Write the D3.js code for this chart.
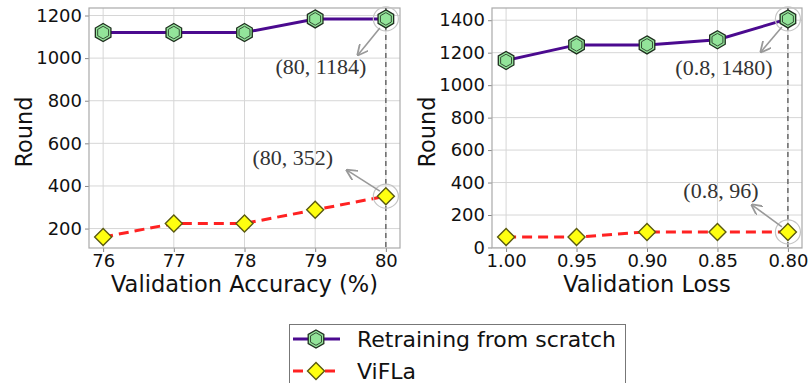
<!DOCTYPE html>
<html>
<head>
<meta charset="utf-8">
<script src="https://cdn.jsdelivr.net/npm/d3@7"></script>
<style>
  body { margin: 0; background: #fff; }
  svg { display: block; }
</style>
</head>
<body>
<div id="chart"></div>
<script>
// accuracy panel
const accTicks = [76, 77, 78, 79, 80];
const accRetrain = [1120, 1120, 1120, 1184, 1184];
const accVifla = [160, 224, 224, 288, 352];
const accYTicks = [200, 400, 600, 800, 1000, 1200];

// loss panel
const lossTicks = [1.00, 0.95, 0.90, 0.85, 0.80];
const lossRetrain = [1152, 1248, 1248, 1280, 1408];
const lossVifla = [64, 64, 96, 96, 96];
const lossYTicks = [0, 200, 400, 600, 800, 1000, 1200, 1400];

const seriesNames = ['Retraining from scratch', 'ViFLa'];

const svg = d3.select('#chart')
  .append('svg')
  .attr('width', 812)
  .attr('height', 383);

// arrowhead
svg.append('defs').append('marker')
  .attr('id', 'arrow')
  .attr('viewBox', '0 0 10 10')
  .attr('refX', 9).attr('refY', 5)
  .attr('markerWidth', 7).attr('markerHeight', 7)
  .attr('orient', 'auto-start-reverse')
  .append('path')
  .attr('d', 'M0,0 L10,5 L0,10')
  .attr('fill', 'none')
  .attr('stroke', '#999')
  .attr('stroke-width', 1.6);

const hexPts = (r) => d3.range(6).map(i => {
  const a = Math.PI / 3 * i - Math.PI / 2;
  return [r * Math.cos(a), r * Math.sin(a)];
});
const hexPath = r => 'M' + hexPts(r).map(p => p.join(',')).join('L') + 'Z';
const diamondPath = r => `M0,${-r}L${r},0L0,${r}L${-r},0Z`;

function drawHex(g, x, y) {
  const m = g.append('g').attr('transform', `translate(${x},${y})`);
  m.append('path').attr('d', hexPath(9)).attr('fill', '#93e49a')
    .attr('stroke', '#1f2f1f').attr('stroke-width', 1.3);
  m.append('path').attr('d', hexPath(6.3)).attr('fill', 'none')
    .attr('stroke', '#2a3d2a').attr('stroke-width', 0.9);
}
function drawDiamond(g, x, y) {
  g.append('path')
    .attr('transform', `translate(${x},${y})`)
    .attr('d', diamondPath(8.5))
    .attr('fill', '#ffff10')
    .attr('stroke', '#5a5a10')
    .attr('stroke-width', 1.4);
}

function panel(cfg) {
  const g = svg.append('g');
  const x = d3.scaleLinear().domain(cfg.xDomain).range([cfg.left, cfg.right]);
  const y = d3.scaleLinear().domain(cfg.yDomain).range([248, 8]);

  // grid
  g.append('g').selectAll('line.gx').data(cfg.xTicks).enter().append('line')
    .attr('x1', d => x(d)).attr('x2', d => x(d))
    .attr('y1', 8).attr('y2', 248)
    .attr('stroke', '#d6d6d6').attr('stroke-width', 1);
  g.append('g').selectAll('line.gy').data(cfg.yTicks).enter().append('line')
    .attr('x1', cfg.left).attr('x2', cfg.right)
    .attr('y1', d => y(d)).attr('y2', d => y(d))
    .attr('stroke', '#d6d6d6').attr('stroke-width', 1);

  // axes
  const xAxis = g.append('g').attr('transform', 'translate(0,248)')
    .call(d3.axisBottom(x).tickValues(cfg.xTicks).tickFormat(cfg.xFormat).tickSizeOuter(0).tickSize(4).tickPadding(2));
  const yAxis = g.append('g').attr('transform', `translate(${cfg.left},0)`)
    .call(d3.axisLeft(y).tickValues(cfg.yTicks).tickFormat(d3.format('d')).tickSizeOuter(0).tickSize(4).tickPadding(3));
  [xAxis, yAxis].forEach(a => {
    a.select('.domain').remove();
    a.selectAll('line').attr('stroke', '#888');
    a.selectAll('text')
      .attr('fill', '#111')
      .style('font-family', 'DejaVu Sans, sans-serif')
      .style('font-size', '18px');
  });

  // frame
  g.append('rect')
    .attr('x', cfg.left).attr('y', 8)
    .attr('width', cfg.right - cfg.left).attr('height', 240)
    .attr('fill', 'none').attr('stroke', '#aaa').attr('stroke-width', 1.2);

  // vertical marker line
  const last = cfg.xTicks[cfg.xTicks.length - 1];
  g.append('line')
    .attr('x1', x(last)).attr('x2', x(last))
    .attr('y1', 8).attr('y2', 248)
    .attr('stroke', '#555').attr('stroke-width', 1.3)
    .attr('stroke-dasharray', '5,4');

  // lines
  const line = (vals) => d3.line().x((d, i) => x(cfg.xTicks[i])).y(d => y(d))(vals);
  g.append('path').attr('d', line(cfg.retrain))
    .attr('fill', 'none').attr('stroke', '#4b0a8f').attr('stroke-width', 3);
  g.append('path').attr('d', line(cfg.vifla))
    .attr('fill', 'none').attr('stroke', '#ff2222').attr('stroke-width', 3)
    .attr('stroke-dasharray', '10,6');

  cfg.retrain.forEach((v, i) => drawHex(g, x(cfg.xTicks[i]), y(v)));
  cfg.vifla.forEach((v, i) => drawDiamond(g, x(cfg.xTicks[i]), y(v)));

  // annotations
  cfg.notes.forEach(n => {
    const px = x(last), py = y(n.value);
    g.append('ellipse').attr('cx', px).attr('cy', py).attr('rx', 12.5).attr('ry', 12)
      .attr('fill', 'none').attr('stroke', '#c4c4c4').attr('stroke-width', 1.2);
    g.append('line')
      .attr('x1', px - 6).attr('y1', py + n.dy0)
      .attr('x2', px + n.ax).attr('y2', py + n.ay)
      .attr('stroke', '#999').attr('stroke-width', 1.6)
      .attr('marker-end', 'url(#arrow)');
    g.append('text')
      .attr('x', px + n.tx).attr('y', py + n.ty)
      .attr('text-anchor', 'middle')
      .attr('fill', '#333')
      .style('font-family', 'Liberation Serif, Times New Roman, serif')
      .style('font-size', '22px')
      .text(n.label);
  });

  // labels
  g.append('text')
    .attr('x', (cfg.left + cfg.right) / 2).attr('y', 292)
    .attr('text-anchor', 'middle').attr('fill', '#111')
    .style('font-family', 'DejaVu Sans, sans-serif').style('font-size', '22.5px')
    .text(cfg.xLabel);
  g.append('text')
    .attr('transform', `translate(${cfg.yLabelX},132) rotate(-90)`)
    .attr('text-anchor', 'middle').attr('fill', '#111')
    .style('font-family', 'DejaVu Sans, sans-serif').style('font-size', '22.5px')
    .text('Round');
}

panel({
  left: 89, right: 400,
  xDomain: [75.8, 80.2], yDomain: [108.8, 1235.2],
  xTicks: accTicks, yTicks: accYTicks, xFormat: d3.format('d'),
  retrain: accRetrain, vifla: accVifla,
  xLabel: 'Validation Accuracy (%)', yLabelX: 32,
  notes: [
    { value: accRetrain[4], label: '(80, 1184)', dy0: 9, ax: -28, ay: 36, tx: -65, ty: 55 },
    { value: accVifla[4], label: '(80, 352)', dy0: -5, ax: -39, ay: -26, tx: -93, ty: -31 }
  ]
});

panel({
  left: 492, right: 802,
  xDomain: [1.01, 0.79], yDomain: [-3.2, 1475.2],
  xTicks: lossTicks, yTicks: lossYTicks, xFormat: d3.format('.2f'),
  retrain: lossRetrain, vifla: lossVifla,
  xLabel: 'Validation Loss', yLabelX: 435,
  notes: [
    { value: lossRetrain[4], label: '(0.8, 1480)', dy0: 8, ax: -27, ay: 33, tx: -64, ty: 56 },
    { value: lossVifla[4], label: '(0.8, 96)', dy0: -5, ax: -36, ay: -27, tx: -67, ty: -34 }
  ]
});

// legend
const legend = svg.append('g');
legend.append('rect')
  .attr('x', 289.5).attr('y', 324.5).attr('width', 336).attr('height', 70)
  .attr('fill', '#fff').attr('stroke', '#777').attr('stroke-width', 1);
const rows = legend.selectAll('g.row').data(seriesNames).enter().append('g')
  .attr('transform', (d, i) => `translate(0,${339 + i * 32})`);
rows.append('line').attr('x1', 293).attr('x2', 340).attr('y1', 0).attr('y2', 0)
  .attr('stroke', (d, i) => i === 0 ? '#4b0a8f' : '#ff2222')
  .attr('stroke-width', 3)
  .attr('stroke-dasharray', (d, i) => i === 0 ? null : '10,6');
rows.each(function(d, i) {
  if (i === 0) drawHex(d3.select(this), 316, 0);
  else drawDiamond(d3.select(this), 316, 0);
});
rows.append('text').attr('x', 357).attr('y', 8)
  .attr('fill', '#111')
  .style('font-family', 'DejaVu Sans, sans-serif').style('font-size', '22px')
  .text(d => d);
</script>
</body>
</html>
